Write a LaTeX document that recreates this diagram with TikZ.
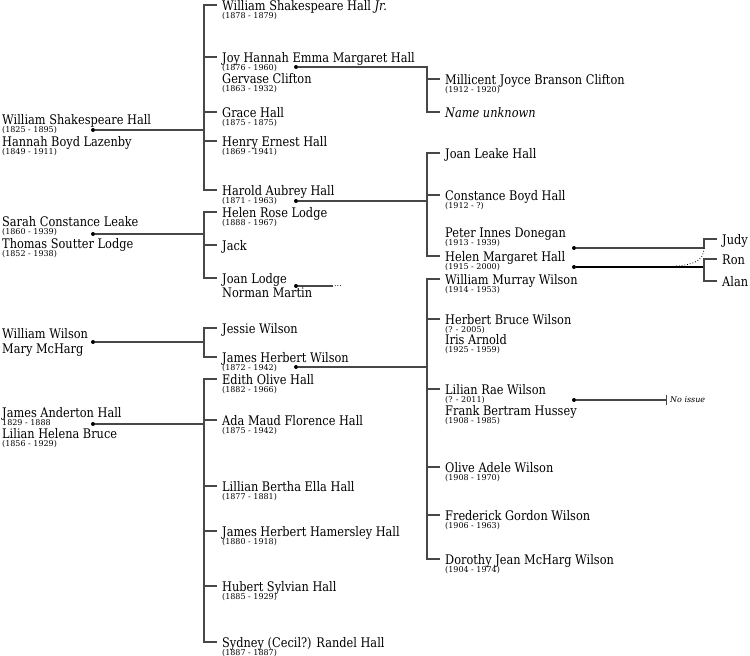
\documentclass[tikz,border=0pt]{standalone}
\usepackage{fontspec}
\setmainfont{DejaVu Serif}
\newfontfamily\nmfont[FakeStretch=0.86]{DejaVu Serif}
\usetikzlibrary{arrows.meta}
\newcommand\fperson[5]{%
  \node[nm] (#1) at ({#2},{#3+5}) {#4};
  \coordinate (#1-t) at ({#2-5},{#3});
  \coordinate (#1-b) at ({#2-18},{#3});
  \ifx&#5&\else\node[dt] (#1-d) at ({#2},{#3+13}) {#5};\fi}
\begin{document}
\begin{tikzpicture}[x=1pt,y=-1pt,
  nm/.style={anchor=base west,inner sep=0,font=\nmfont\fontsize{13.2}{15}\selectfont},
  dt/.style={anchor=base west,inner sep=0,font=\fontsize{8}{9}\selectfont},
  ln/.style={line width=1.2pt,draw=black!72},
  dot/.style={circle,fill=black,inner sep=0,minimum size=4pt}]
\useasboundingbox[fill=white] (0,0) rectangle (750,656);

% ---- column A
\fperson{wsh}{2}{119.5}{William Shakespeare Hall}{(1825 - 1895)}
\fperson{hbl}{2}{141.5}{Hannah Boyd Lazenby}{(1849 - 1911)}
\fperson{scl}{2}{221.5}{Sarah Constance Leake}{(1860 - 1939)}
\fperson{tsl}{2}{243.5}{Thomas Soutter Lodge}{(1852 - 1938)}
\fperson{ww}{2}{333.5}{William Wilson}{}
\fperson{mm}{2}{348.5}{Mary McHarg}{}
\fperson{jah}{2}{412.5}{James Anderton Hall}{1829 - 1888}
\fperson{lhb}{2}{433.5}{Lilian Helena Bruce}{(1856 - 1929)}
\node[dot] (d1) at (93,130) {};
\node[dot] (d2) at (93,234) {};
\node[dot] (d3) at (93,342) {};
\node[dot] (d4) at (93,424) {};

% ---- column B
\fperson{wshjr}{222}{5}{William Shakespeare Hall \textit{Jr.}}{(1878 - 1879)}
\fperson{joy}{222}{57}{Joy Hannah Emma Margaret Hall}{(1876 - 1960)}
\fperson{gc}{222}{78.5}{Gervase Clifton}{(1863 - 1932)}
\fperson{gh}{222}{112}{Grace Hall}{(1875 - 1875)}
\fperson{heh}{222}{141}{Henry Ernest Hall}{(1869 - 1941)}
\fperson{hah}{222}{190}{Harold Aubrey Hall}{(1871 - 1963)}
\fperson{hrl}{222}{212}{Helen Rose Lodge}{(1888 - 1967)}
\fperson{jack}{222}{245}{Jack}{}
\fperson{jl}{222}{278}{Joan Lodge}{}
\fperson{nmart}{222}{292.5}{Norman Martin}{}
\fperson{jw}{222}{328}{Jessie Wilson}{}
\fperson{jhw}{222}{357}{James Herbert Wilson}{(1872 - 1942)}
\fperson{eoh}{222}{379}{Edith Olive Hall}{(1882 - 1966)}
\fperson{amfh}{222}{420}{Ada Maud Florence Hall}{(1875 - 1942)}
\fperson{lbeh}{222}{486}{Lillian Bertha Ella Hall}{(1877 - 1881)}
\fperson{jhhh}{222}{531}{James Herbert Hamersley Hall}{(1880 - 1918)}
\fperson{hsh}{222}{586}{Hubert Sylvian Hall}{(1885 - 1929)}
\fperson{sch}{222}{642}{Sydney (Cecil?) Randel Hall}{(1887 - 1887)}
\node[dot] (d5) at (296,67) {};
\node[dot] (d6) at (296,201) {};
\node[dot] (d7) at (296,286) {};
\node[dot] (d8) at (296,367) {};
\node[dt,anchor=west,inner sep=1pt] (more) at (333,286) {...};

% ---- column C
\fperson{mjbc}{445}{79}{Millicent Joyce Branson Clifton}{(1912 - 1920)}
\fperson{unk}{445}{112}{\textit{Name unknown}}{}
\fperson{jlh}{445}{153}{Joan Leake Hall}{}
\fperson{cbh}{445}{195}{Constance Boyd Hall}{(1912 - ?)}
\fperson{pid}{445}{232.5}{Peter Innes Donegan}{(1913 - 1939)}
\fperson{hmh}{445}{256}{Helen Margaret Hall}{(1915 - 2000)}
\fperson{wmw}{445}{279}{William Murray Wilson}{(1914 - 1953)}
\fperson{hbw}{445}{319}{Herbert Bruce Wilson}{(? - 2005)}
\fperson{ia}{445}{339.5}{Iris Arnold}{(1925 - 1959)}
\fperson{lrw}{445}{389}{Lilian Rae Wilson}{(? - 2011)}
\fperson{fbh}{445}{410.5}{Frank Bertram Hussey}{(1908 - 1985)}
\fperson{oaw}{445}{467}{Olive Adele Wilson}{(1908 - 1970)}
\fperson{fgw}{445}{515}{Frederick Gordon Wilson}{(1906 - 1963)}
\fperson{djmw}{445}{559}{Dorothy Jean McHarg Wilson}{(1904 - 1974)}
\node[dot] (d9) at (574,248) {};
\node[dot] (d10) at (574,267) {};
\node[dot] (d11) at (574,400) {};
\node[anchor=west,inner sep=0,font=\fontsize{8}{9}\selectfont\itshape] (noiss) at (670,400) {No issue};
\coordinate (noend) at ([xshift=-3pt]noiss.west);

% ---- column D
\fperson{judy}{722}{239}{Judy}{}
\fperson{ron}{722}{259}{Ron}{}
\fperson{alan}{722}{281}{Alan}{}

% ---- connectors: Hall family
\draw[ln] (d1) -- (d1 -| wshjr-b);
\draw[ln] (wshjr-t) -- (wshjr-b) -- (hah-b) -- (hah-t);
\foreach \c in {joy,gh,heh} \draw[ln] (\c-t) -- (\c-b);
% Joy + Gervase
\draw[ln] (d5) -| (unk-b) -- (unk-t);
\draw[ln] (mjbc-t) -- (mjbc-b);
% Harold + Helen Rose
\draw[ln] (d6) -- (d6 -| jlh-b);
\draw[ln] (jlh-t) -- (jlh-b) -- (hmh-b) -- (hmh-t);
\draw[ln] (cbh-t) -- (cbh-b);
% Lodge family
\draw[ln] (d2) -- (d2 -| hrl-b);
\draw[ln] (hrl-t) -- (hrl-b) -- (jl-b) -- (jl-t);
\draw[ln] (jack-t) -- (jack-b);
\draw[ln] (d7) -- (d7 -| more.west);
% Wilson family
\draw[ln] (d3) -- (d3 -| jw-b);
\draw[ln] (jw-t) -- (jw-b) -- (jhw-b) -- (jhw-t);
\draw[ln] (d8) -- (d8 -| wmw-b);
\draw[ln] (wmw-t) -- (wmw-b) -- (djmw-b) -- (djmw-t);
\foreach \c in {hbw,lrw,oaw,fgw} \draw[ln] (\c-t) -- (\c-b);
\draw[ln,-{Bar[width=10pt,line width=1pt]}] (d11) -- (d11 -| noend);
% Anderton Hall family
\draw[ln] (d4) -- (d4 -| eoh-b);
\draw[ln] (eoh-t) -- (eoh-b) -- (sch-b) -- (sch-t);
\foreach \c in {amfh,lbeh,jhhh,hsh} \draw[ln] (\c-t) -- (\c-b);
% Donegan / Helen Margaret
\draw[ln] (d9) -| (judy-b) -- (judy-t);
\coordinate (jb) at (d9 -| judy-b);
\coordinate (hb) at (d10 -| ron-b);
\draw[dotted,line width=0.8pt] (jb) .. controls ([yshift=-14pt]jb) and ([xshift=-12pt]hb) .. ([xshift=-50pt]hb);
\draw[line width=1.1pt,black] (d10) -- (hb);
\draw[ln] (ron-t) -- (ron-b) |- (alan-t);
\end{tikzpicture}
\end{document}
